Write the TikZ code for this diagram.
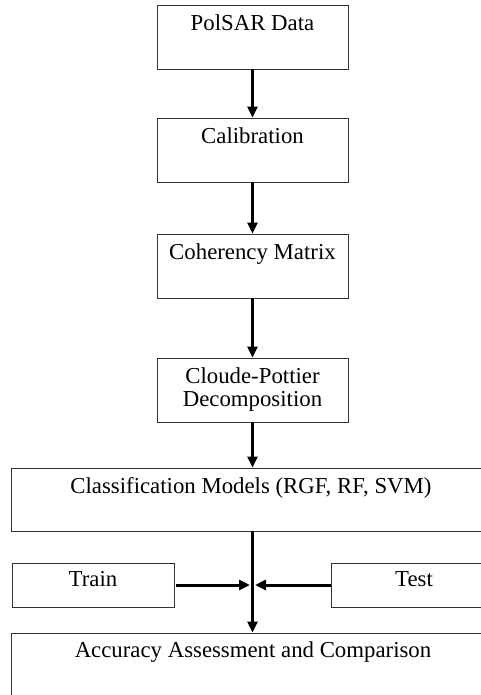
\documentclass[tikz,border=0pt]{standalone}
\usepackage{fontspec}
\setmainfont{Liberation Serif}
\usetikzlibrary{arrows.meta}
\begin{document}
\begin{tikzpicture}[x=1pt,y=-1pt,
  every node/.style={font=\fontsize{22.8}{23}\selectfont},
  box/.style={draw=black!80, line width=0.9pt, rectangle, inner sep=0pt},
  lbl/.style={anchor=base, inner sep=0pt, yshift=-26pt},
  lbltwo/.style={anchor=north, inner sep=0pt, align=center, yshift=-10.4pt},
  arr/.style={line width=3pt, -{Triangle[length=11pt,width=10pt]}}]
\useasboundingbox (0,0) rectangle (481,695);
\clip (0,0) rectangle (481,695);
\node[box, minimum width=191pt, minimum height=64pt, label={[lbl]north:PolSAR Data}] (p) at (252.5,37) {};
\node[box, minimum width=191pt, minimum height=64pt, label={[lbl]north:Calibration}] (c) at (252.5,150) {};
\node[box, minimum width=191pt, minimum height=64pt, label={[lbl]north:Coherency Matrix}] (h) at (252.5,266) {};
\node[box, minimum width=191pt, minimum height=64pt, label={[lbltwo]north:Cloude-Pottier\\Decomposition}] (d) at (252.5,390) {};
\node[box, minimum width=480pt, minimum height=63pt, label={[lbl]north:Classification Models (RGF, RF, SVM)}] (m) at (251,499.5) {};
\node[box, minimum width=162pt, minimum height=44pt, label={[lbl, yshift=2pt]north:Train}] (t) at (93,585) {};
\node[box, minimum width=166pt, minimum height=44pt, label={[lbl, yshift=2pt]north:Test}] (s) at (414,585) {};
\node[box, minimum width=484pt, minimum height=64pt, label={[lbl, yshift=1pt]north:Accuracy Assessment and Comparison}] (a) at (253,665) {};
\coordinate (j) at (252.5,585);
\draw[arr] (p) -- (c);
\draw[arr] (c) -- (h);
\draw[arr] (h) -- (d);
\draw[arr] (d.south) -- (m.north -| d.south);
\draw[arr] (m.south -| j) -- (a.north -| j);
\draw[arr] ([xshift=2pt]t.east) -- ([xshift=-2.5pt]j);
\draw[arr] (s.west) -- ([xshift=2.5pt]j);
\end{tikzpicture}
\end{document}
